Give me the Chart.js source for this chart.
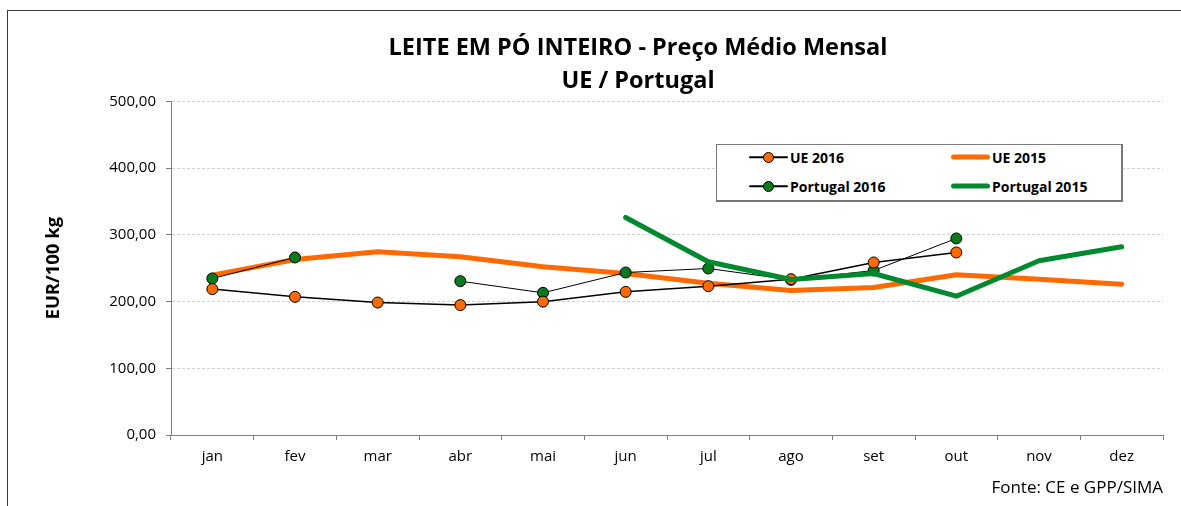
<!DOCTYPE html>
<html><head><meta charset="utf-8">
<script src="https://cdn.jsdelivr.net/npm/chart.js@4/dist/chart.umd.min.js"></script>
<style>
html,body{margin:0;padding:0;width:1181px;height:506px;overflow:hidden;background:#fff;}
#frame{position:absolute;left:7px;top:10px;width:1262px;height:600px;border:1px solid #3a3a3a;box-sizing:border-box;}
#c{position:absolute;left:0;top:0;}
#legend{position:absolute;left:716px;top:144px;width:407px;height:58px;border:1px solid #7a7a7a;border-right:2px solid #777;border-bottom:2px solid #777;box-sizing:border-box;background:#fff;font:bold 14px 'Open Sans';color:#000;}
.item{position:absolute;height:20px;display:flex;align-items:center;white-space:nowrap;}
.sample{position:relative;width:39px;height:20px;margin-right:2px;}
.sample .ln{position:absolute;left:0;right:0;top:50%;transform:translateY(-50%);border-radius:3px;}
.sample .mk{position:absolute;left:50%;top:50%;width:11px;height:11px;margin:-5.5px 0 0 -5.5px;border-radius:50%;border:1px solid #000;box-sizing:border-box;}
</style></head>
<body>
<div id="frame"></div>
<canvas id="c" width="1276" height="506"></canvas>
<div id="legend"></div>
<script>
const months = ['jan','fev','mar','abr','mai','jun','jul','ago','set','out','nov','dez'];
const ue2016 = [218.6,207,198.5,194.6,199.8,214.5,223,233.5,258.5,273.5,null,null];
const ue2015 = [239.5,263,274.5,267,252,242,227.5,216.5,221,240,233.5,226];
const pt2016 = [234.5,266,null,230.5,213,243.5,249.5,232.5,246.5,294.5,null,null];
const pt2015 = [null,null,null,null,null,326,259.5,233,242,208,261,282];
const yTicks = [0,100,200,300,400,500];

const ORANGE = '#FF6A00', GREEN = '#00892E', GREEN_MK = '#0A7A1E';
const FONT = 'Open Sans';

const datasets = [
  {label:'UE 2016', data:ue2016, borderColor:'#000', borderWidth:1.5, pointRadius:5.5, pointBackgroundColor:ORANGE, pointBorderColor:'#000', pointBorderWidth:1, order:1, _mk:true},
  {label:'UE 2015', data:ue2015, borderColor:ORANGE, borderWidth:5, pointRadius:0, order:3, _mk:false},
  {label:'Portugal 2016', data:pt2016, borderColor:'#000', borderWidth:1, pointRadius:5.5, pointBackgroundColor:GREEN_MK, pointBorderColor:'#000', pointBorderWidth:1, order:2, _mk:true},
  {label:'Portugal 2015', data:pt2015, borderColor:GREEN, borderWidth:5, pointRadius:0, order:0, _mk:false}
];
datasets.forEach(d=>{d.tension=0;d.borderCapStyle='round';d.borderJoinStyle='round';d.spanGaps=false;d.pointHoverRadius=d.pointRadius;});

const chart = new Chart(document.getElementById('c'), {
  type:'line',
  data:{labels:months, datasets},
  options:{
    responsive:false, animation:false, devicePixelRatio:1,
    layout:{padding:{left:0,right:0,top:0,bottom:8}},
    plugins:{
      legend:{display:false}, tooltip:{enabled:false},
      title:{display:true, text:['LEITE EM PÓ INTEIRO - Preço Médio Mensal','UE / Portugal'], color:'#000',
        font:{family:FONT,size:23.5,weight:'bold',lineHeight:1.4}, padding:{top:32,bottom:3.5}}
    },
    scales:{
      x:{
        offset:true,
        grid:{drawOnChartArea:false, color:'#808080', tickColor:'#808080', tickLength:5, offset:true},
        border:{color:'#808080', width:1},
        ticks:{color:'#000', font:{family:FONT,size:15}, padding:8, maxRotation:0, autoSkip:false},
        title:{display:true, text:'Fonte: CE e GPP/SIMA', align:'end', color:'#000', font:{family:FONT,size:17}, padding:{top:4,bottom:0}},
        afterFit:s=>{s.height=63;}
      },
      y:{
        min:0, max:500,
        afterBuildTicks:s=>{s.ticks = yTicks.map(v=>({value:v}));},
        ticks:{callback:v=>v.toFixed(2).replace('.',','), color:'#000', font:{family:FONT,size:15}, padding:10},
        grid:{color:'#d0d0d0', tickColor:'#808080', tickLength:5, tickBorderDash:[]},
        border:{display:true, color:'#808080', width:1, dash:[3,2]},
        title:{display:true, text:'EUR/100 kg', color:'#000', font:{family:FONT,size:18.5,weight:'bold'}, padding:{top:43,bottom:0}},
        afterFit:s=>{s.width=171;}
      },
      yR:{
        position:'right', display:true,
        grid:{display:false}, border:{display:false}, ticks:{display:false},
        afterFit:s=>{s.width=113;}
      }
    }
  }
});

// HTML legend built from datasets
const lg = document.getElementById('legend');
const pos = [[32,12],[234,12],[32,41],[234,41]];
datasets.forEach((d,i)=>{
  const it = document.createElement('div');
  it.className='item';
  it.style.left = pos[i][0]+'px';
  it.style.top = (pos[i][1]-10)+'px';
  const s = document.createElement('div'); s.className='sample';
  const ln = document.createElement('div'); ln.className='ln';
  ln.style.height = (d.borderWidth>=3?5:1.5)+'px';
  ln.style.background = d.borderColor;
  s.appendChild(ln);
  if(d._mk){const mk=document.createElement('div');mk.className='mk';mk.style.background=d.pointBackgroundColor;s.appendChild(mk);}
  it.appendChild(s);
  const t = document.createElement('span'); t.textContent = d.label; it.appendChild(t);
  lg.appendChild(it);
});
</script>
</body></html>
